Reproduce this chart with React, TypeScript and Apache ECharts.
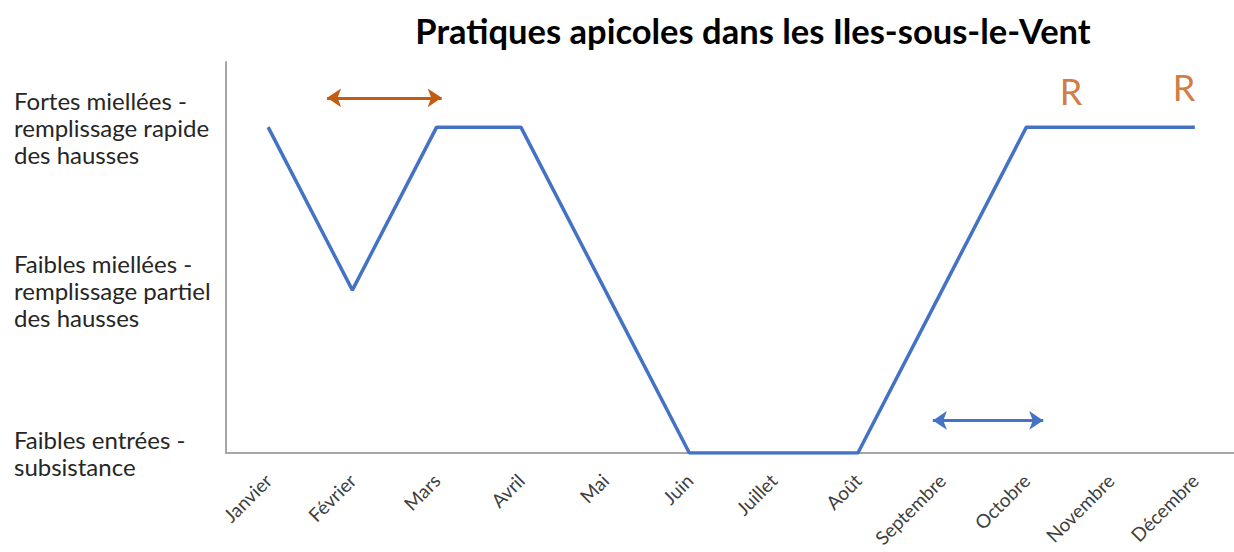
import React, { useEffect, useRef } from "react";
import * as echarts from "echarts";

const months = ["Janvier", "Février", "Mars", "Avril", "Mai", "Juin", "Juillet", "Août", "Septembre", "Octobre", "Novembre", "Décembre"];
const levels = [2, 1, 2, 2, 1, 0, 0, 0, 1, 2, 2, 2];
const levelLabels = [
  "Faibles entrées -\nsubsistance",
  "Faibles miellées -\nremplissage partiel\ndes hausses",
  "Fortes miellées -\nremplissage rapide\ndes hausses",
];
const orangeArrow = [[0.7, 2.18], [2.06, 2.18]];
const blueArrow = [[7.89, 0.2], [9.2, 0.2]];
const rMarks = [[9.53, 2.225], [10.87, 2.245]];

const FONT = "Lato, 'Open Sans', sans-serif";

export default function App() {
  const ref = useRef<HTMLDivElement>(null);
  useEffect(() => {
    if (!ref.current) return;
    const chart = echarts.init(ref.current, null, { renderer: "svg" });
    chart.setOption({
      animation: false,
      backgroundColor: "#ffffff",
      title: {
        text: "Pratiques apicoles dans les Iles-sous-le-Vent",
        left: 748,
        top: 8,
        textAlign: "center",
        textStyle: { fontFamily: FONT, fontSize: 34.5, fontWeight: "bold", color: "#000" },
      },
      grid: { left: 226, right: 3, top: 62, bottom: 99 },
      xAxis: [
        {
          type: "category",
          data: months,
          boundaryGap: true,
          axisLine: { lineStyle: { color: "#a6a6a6", width: 2 } },
          axisTick: { show: false },
          axisLabel: { rotate: 45, margin: 24, fontFamily: FONT, fontSize: 19, color: "#404040", interval: 0 },
        },
        { type: "value", min: -0.5, max: 11.5, show: false },
      ],
      yAxis: {
        type: "value",
        min: 0,
        max: 2.4,
        interval: 1,
        axisLine: { show: true, onZero: false, lineStyle: { color: "#a6a6a6", width: 2 } },
        axisTick: { show: false },
        splitLine: { show: false },
        axisLabel: {
          align: "left",
          margin: 212,
          fontFamily: FONT,
          fontSize: 24,
          lineHeight: 27,
          color: "#262626",
          showMaxLabel: false,
          formatter: (v: number) => (Number.isInteger(v) && levelLabels[v] ? levelLabels[v] : ""),
        },
      },
      series: [
        {
          type: "line",
          data: levels,
          symbol: "none",
          lineStyle: { color: "#4472C4", width: 3.5 },
        },
        {
          type: "line",
          xAxisIndex: 1,
          data: [],
          markLine: {
            silent: true,
            symbol: ["arrow", "arrow"],
            symbolSize: [14, 14],
            label: { show: false },
            lineStyle: { color: "#C55A11", width: 3, type: "solid" },
            data: [[{ coord: orangeArrow[0] }, { coord: orangeArrow[1] }]],
          },
        },
        {
          type: "line",
          xAxisIndex: 1,
          data: [],
          markLine: {
            silent: true,
            symbol: ["arrow", "arrow"],
            symbolSize: [14, 14],
            label: { show: false },
            lineStyle: { color: "#4472C4", width: 3, type: "solid" },
            data: [[{ coord: blueArrow[0] }, { coord: blueArrow[1] }]],
          },
        },
        {
          type: "scatter",
          xAxisIndex: 1,
          data: rMarks,
          symbolSize: 0,
          label: {
            show: true,
            position: "inside",
            formatter: "R",
            fontFamily: FONT,
            fontSize: 36,
            color: "#C55A11",
          },
        },
      ],
    });
    return () => chart.dispose();
  }, []);
  return (
    <div style={{ position: "absolute", left: 0, top: 0, width: 1234, height: 552, overflow: "hidden" }}>
      <div ref={ref} style={{ width: 1240, height: 552 }} />
    </div>
  );
}
